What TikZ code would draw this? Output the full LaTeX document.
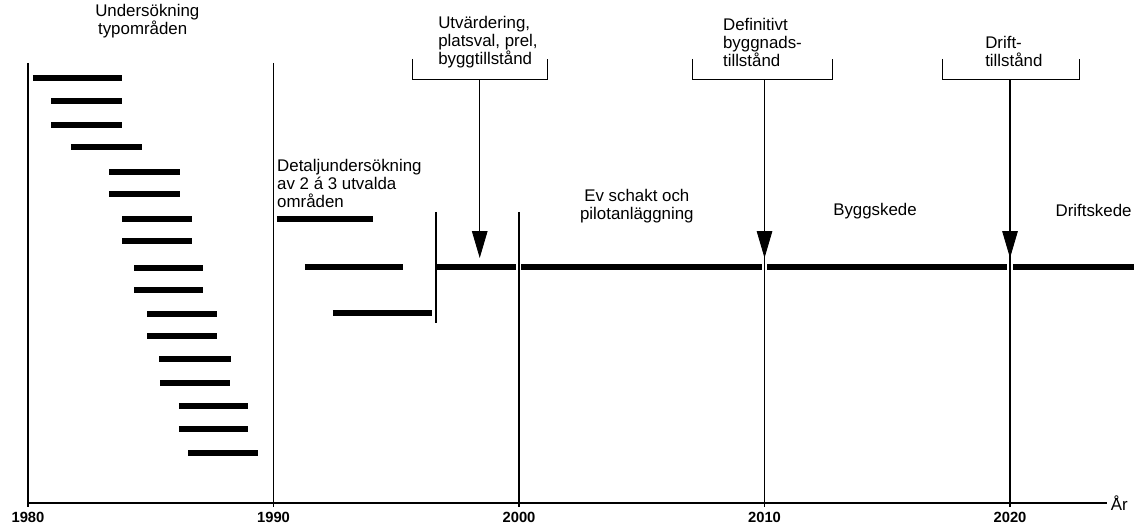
\documentclass[tikz,border=0pt]{standalone}
\usepackage{fontspec}
\setmainfont{Liberation Sans}
\usetikzlibrary{arrows.meta}
\tikzstyle{bar} = [line width=4.2pt]
\tikzstyle{yearline} = [line width=0.8pt]
\tikzstyle{axisline} = [line width=1.3pt]
\tikzstyle{bracketline} = [line width=0.7pt]
\tikzstyle{permit} = [
    line width=0.6pt,
    -{Triangle[length=19pt,width=11pt]}
    ]
\tikzstyle{phase} = [
    font=\fontsize{12pt}{12.8pt}\selectfont,
    inner sep=0pt,
    align=left
    ]
\tikzstyle{yearlabel} = [
    font=\fontsize{10.5pt}{12pt}\selectfont\bfseries,
    inner sep=0pt
    ]

\begin{document}
\begin{tikzpicture}[x=0.61375cm, y=-0.025cm]
\useasboundingbox (-1.1405,0) rectangle (45.05,528);

% time axis
\draw[axisline] (0,503) -- (43.95,503);
\node[phase, anchor=west] (aar) at (44.1,503) {År};
\foreach \yr/\top in {0/63, 10/63, 20/212, 30/80, 40/80} {
    \draw[yearline] (\yr,\top) -- (\yr,507);
}
\foreach \yr/\lbl in {0/1980, 10/1990, 20/2000, 30/2010, 40/2020} {
    \node[yearlabel] (y\lbl) at (\yr,518) {\lbl};
}
\draw[yearline] (16.62,212) -- (16.62,323);

% undersokning typomraden
\foreach \a/\b/\y in {0.2/3.83/78, 0.94/3.83/101, 0.94/3.83/125, 1.75/4.64/147,
    3.30/6.19/172, 3.30/6.19/194, 3.83/6.68/219, 3.83/6.68/241,
    4.32/7.13/268, 4.32/7.13/290, 4.85/7.70/314, 4.85/7.70/336,
    5.34/8.27/359, 5.38/8.23/383, 6.15/8.96/406, 6.15/8.96/429,
    6.52/9.37/453} {
    \draw[bar] (\a,\y) -- (\b,\y);
}
\node[phase, anchor=west] (typ) at (2.73,21) {Undersökning\\\,typområden};

% detaljundersokning
\foreach \a/\b/\y in {10.14/14.05/219, 11.28/15.27/267, 12.42/16.46/313} {
    \draw[bar] (\a,\y) -- (\b,\y);
}
\node[phase, anchor=west] (detalj) at (10.14,184) {Detaljundersökning\\av 2 á 3 utvalda\\områden};

% huvudlinje
\foreach \a/\b in {16.65/19.88, 20.1/29.88, 30.12/39.88, 40.12/45.05} {
    \draw[bar] (\a,267) -- (\b,267);
}
\node[phase, align=center] (schakt) at (24.8,206) {Ev schakt och\\pilotanläggning};
\node[phase] (bygg) at (34.5,211) {Byggskede};
\node[phase, anchor=east] (driftskede) at (44.96,211) {Driftskede};

% tillstand
\foreach \name/\l/\r/\m in {utv/15.68/21.18/18.4, def/27.05/32.75/30, drift/37.23/42.81/40} {
    \draw[bracketline] (\l,59) -- (\l,80) -- (\r,80) -- (\r,59);
    \coordinate (\name) at (\m,80);
    \coordinate (\name tip) at (\m,258);
}
\node[phase, anchor=west] (utvtext) at (16.7,42) {Utvärdering,\\platsval, prel,\\byggtillstånd};
\node[phase, anchor=west] (deftext) at (28.3,42) {Definitivt\\byggnads-\\tillstånd};
\node[phase, anchor=west] (drifttext) at (38.98,51) {Drift-\\tillstånd};
\draw[permit] (utv) -- (utvtip);
\draw[permit] (def) -- (deftip);
\draw[permit] (drift) -- (drifttip);
\end{tikzpicture}
\end{document}
